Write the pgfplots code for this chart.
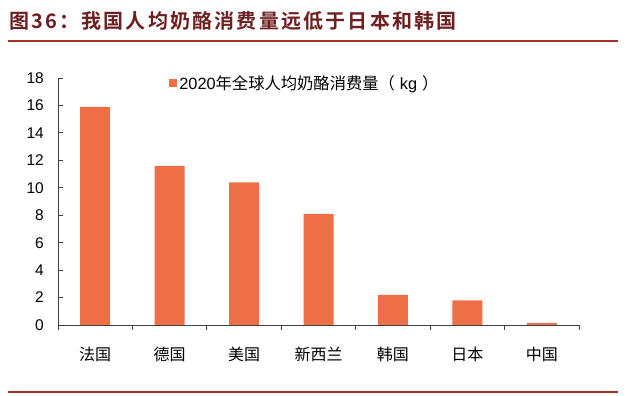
\documentclass[border=0pt]{standalone}
\usepackage{pgfplots}
\pgfplotsset{compat=1.18}
\usepackage{fontspec}
\setmainfont{Liberation Sans}
\newfontfamily\cjk{Noto Sans CJK SC}
\newfontfamily\cjktitle[LetterSpace=11]{Noto Sans CJK SC Bold}
\definecolor{barc}{HTML}{EE6F45}
\definecolor{titlec}{HTML}{6E1F1F}
\definecolor{linec}{HTML}{A8301F}
\definecolor{axc}{HTML}{404040}
\begin{document}
\begin{tikzpicture}
\useasboundingbox (0,0) rectangle (640bp,396bp);
\node[anchor=west, inner sep=0pt, text=titlec] at (9bp,375bp) {\fontsize{20bp}{24bp}\selectfont\cjktitle 图36：我国人均奶酪消费量远低于日本和韩国};
\draw[linec, line width=1.6bp] (8bp,355bp) -- (618bp,355bp);
\draw[linec, line width=1.6bp] (8bp,4bp) -- (618bp,4bp);
\begin{axis}[
  at={(58bp,71bp)}, anchor=south west,
  scale only axis, width=521bp, height=247bp,
  xmin=-0.5, xmax=6.5, ymin=0, ymax=18,
  axis x line*=bottom, axis y line*=left,
  axis line style={axc, line width=0.9bp, -},
  ytick={0,2,...,18},
  xtick={-0.5,0.5,...,6.5},
  x tick label as interval,
  xticklabels={法国,德国,美国,新西兰,韩国,日本,中国},
  tick style={axc, line width=0.9bp},
  major tick length=4.5bp,
  /pgf/number format/assume math mode=true,
  yticklabel style={font=\fontsize{15.5bp}{18bp}\selectfont, anchor=east, inner sep=0pt, xshift=-14bp},
  xticklabel style={font=\fontsize{16bp}{18bp}\selectfont\cjk, anchor=north, inner sep=0pt, yshift=-17bp},
  ybar, bar width=30bp,
  legend style={draw=none, fill=none, at={(0.474,0.98)}, anchor=center,
    font=\fontsize{16.3bp}{18bp}\selectfont, inner sep=0pt,
    /tikz/every even column/.append style={column sep=0pt}},
  legend image code/.code={\path[#1] (0bp,-4bp) rectangle (8bp,4bp);},
]
\addplot[fill=barc, draw=none] coordinates {(0,15.9) (1,11.6) (2,10.4) (3,8.1) (4,2.2) (5,1.8) (6,0.15)};
\addlegendentry{2020{\cjk 年全球人均奶酪消费量（}\hspace{5bp}kg\hspace{5bp}{\cjk ）}}
\end{axis}
\end{tikzpicture}
\end{document}
